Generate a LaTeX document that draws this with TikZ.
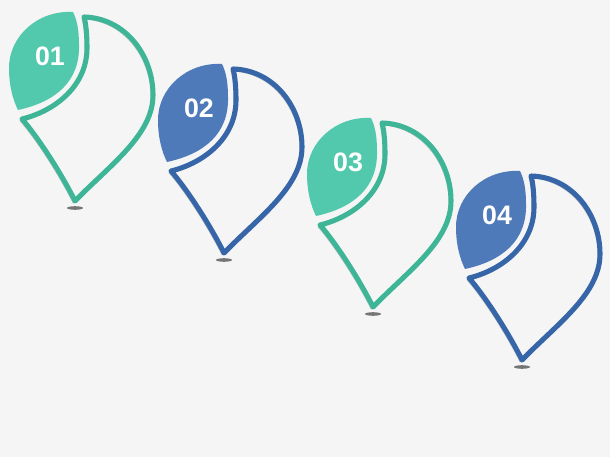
\documentclass[tikz,border=0pt]{standalone}
\usepackage{fontspec}
\setmainfont{Liberation Sans}
\definecolor{capteal}{HTML}{52C8AC}
\definecolor{bandteal}{HTML}{3DB596}
\definecolor{capblue}{HTML}{4E7ABA}
\definecolor{bandblue}{HTML}{3665A8}
\definecolor{paper}{HTML}{F5F5F5}

\begin{document}
\begin{tikzpicture}[x=0.025cm,y=-0.025cm,
    num/.style={text=white,font=\fontsize{19}{19}\selectfont\bfseries,inner sep=0pt},
    band/.style={line width=3.6pt,line join=round},
    pics/pin/.style 2 args={code={
      % cap
      \fill[#1] (73,12) .. controls (38,10) and (9,36) .. (9,68)
        .. controls (9,86) and (13,100) .. (18,110)
        .. controls (55,102) and (80,82) .. (79,45)
        .. controls (79,30) and (77,20) .. (73,12) -- cycle;
      % outline of the pin
      \draw[band,#2,preaction={draw,black,opacity=.22,transform canvas={shift={(-2,2)}}}]
        (84,17) .. controls (125,18) and (153,55) .. (153,95)
        .. controls (153,135) and (110,165) .. (75,201)
        .. controls (62,175) and (40,140) .. (22,119)
        .. controls (55,111) and (87,86) .. (87,48)
        .. controls (87,35) and (86,24) .. (84,17) -- cycle;
      \fill[black!75,opacity=.7] (75,208) ellipse (8 and 1.8);
    }}]
  \fill[paper] (0,0) rectangle (610,457);
  \useasboundingbox (0,0) rectangle (610,457);

  \pic at (0,0) {pin={capteal}{bandteal}};
  \pic at (149,52) {pin={capblue}{bandblue}};
  \pic at (298,106) {pin={capteal}{bandteal}};
  \pic at (447,159) {pin={capblue}{bandblue}};

  \node[num] (n_1) at (50,56) {01};
  \node[num] (n_2) at (199,108) {02};
  \node[num] (n_3) at (348,162) {03};
  \node[num] (n_4) at (497,215) {04};
\end{tikzpicture}
\end{document}
